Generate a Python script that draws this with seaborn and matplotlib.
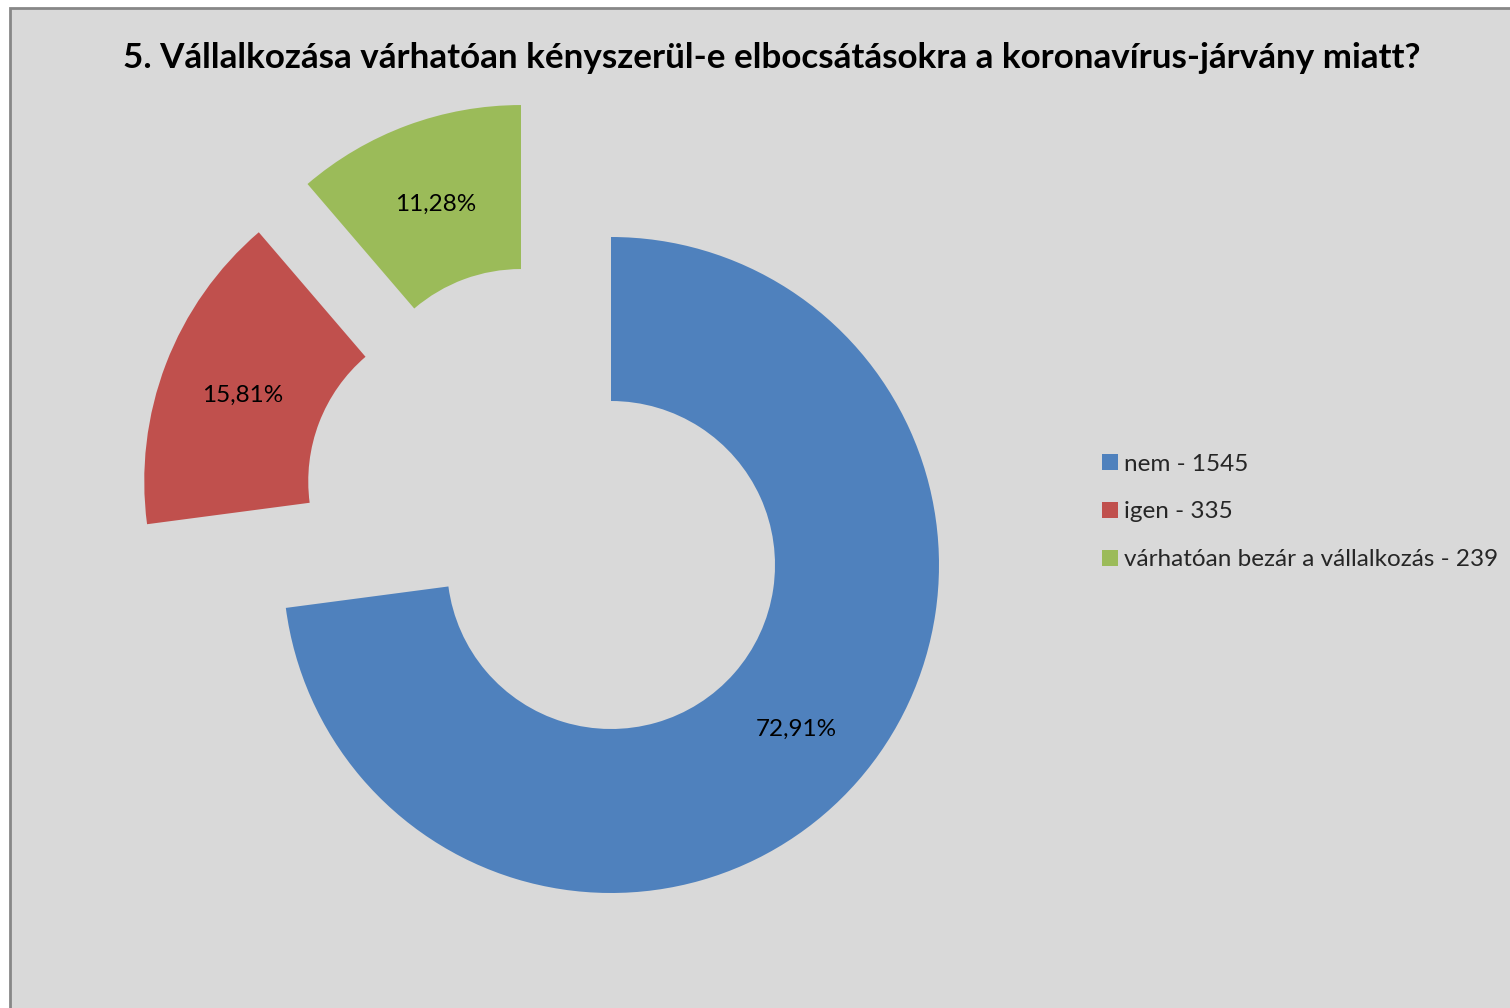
import numpy as np
import matplotlib
matplotlib.use("Agg")
import matplotlib.pyplot as plt
import seaborn as sns
from matplotlib.patches import Rectangle

# Adatok
labels = ["nem", "igen", "várhatóan bezár a vállalkozás"]
counts = [1545, 335, 239]
colors = ["#4F81BD", "#C0504D", "#9BBB59"]
# kiemelés (sugár arányában) és iránya fokban
explode = [0, 0.494, 0.487]
explode_dir = [0, 148.9, 124.3]
title = "5. Vállalkozása várhatóan kényszerül-e elbocsátásokra a koronavírus-járvány miatt?"

sns.set_theme(style="white")
plt.rcParams["font.family"] = ["Lato", "DejaVu Sans"]

W, H = 1510, 1008
fig = plt.figure(figsize=(W / 100, H / 100), dpi=100)
fig.patch.set_facecolor("white")

# Diagramterület háttér + keret
fig.patches.append(Rectangle((10 / W, -0.01), 1.0, 1 - 8 / H + 0.01, transform=fig.transFigure,
                             facecolor="#D9D9D9", edgecolor="#878787", linewidth=2, zorder=-1))

# Kör közepe pixelben (611, 565), sugár 328 px
r_px = 328
cx, cy = 611, H - 565
xl, xr = -1.6, 1.6
yb, yt = -1.35, 1.45
ax = fig.add_axes([(cx + xl * r_px) / W, (cy + yb * r_px) / H,
                   (xr - xl) * r_px / W, (yt - yb) * r_px / H])

wedges, texts, autotexts = ax.pie(
    counts, colors=colors, startangle=90, counterclock=False,
    wedgeprops=dict(width=0.5, linewidth=0), pctdistance=0.75,
    autopct=lambda p: f"{p:.2f}%".replace(".", ","),
    textprops=dict(fontsize=17.5, color="black"))

# Excel-szerű kiemelés: szeletek eltolása
for w, t, e, a in zip(wedges, autotexts, explode, explode_dir):
    dx, dy = e * np.cos(np.radians(a)), e * np.sin(np.radians(a))
    w.set_center((dx, dy))
    x, y = t.get_position()
    t.set_position((x + dx, y + dy))
    t.set_va("center_baseline")

ax.set_aspect("auto")
ax.set_xlim(xl, xr)
ax.set_ylim(yb, yt)
ax.set_facecolor("none")
ax.axis("off")

fig.text(772 / W, 1 - 58 / H, title, ha="center", va="center",
         fontsize=25.2, fontweight="bold", color="black")

ax.legend(wedges, [f"{l} - {c}" for l, c in zip(labels, counts)],
          loc="center left", bbox_to_anchor=(1102 / W, 1 - 512 / H),
          bbox_transform=fig.transFigure, frameon=False, fontsize=17.5,
          handlelength=0.65, handleheight=0.65, handletextpad=0.25,
          labelspacing=1.1, borderpad=0, borderaxespad=0)

fig.savefig("out.png", dpi=100)
